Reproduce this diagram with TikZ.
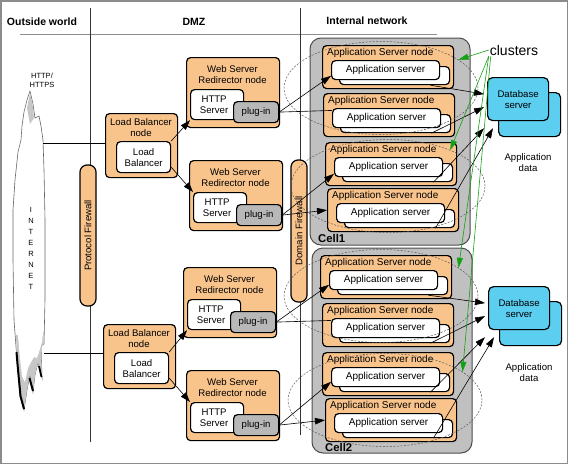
\documentclass[tikz,border=0pt]{standalone}
\usepackage{fontspec}
\setmainfont{Liberation Sans}
\usetikzlibrary{arrows.meta, shapes.geometric, calc}
\definecolor{nodeorange}{RGB}{249,196,140}
\definecolor{cellgray}{RGB}{192,192,192}
\definecolor{pluggray}{RGB}{184,184,184}
\definecolor{dbblue}{RGB}{92,206,240}
\definecolor{clustergreen}{RGB}{20,160,20}

\begin{document}
\begin{tikzpicture}[x=1pt, y=-1pt,
  every node/.style={font=\fontsize{9.6}{11}\selectfont, inner sep=0pt},
  astext/.style={font=\fontsize{10}{11}\selectfont},
  box/.style={draw, line width=1.2pt, rounded corners=4pt, anchor=north west},
  orangebox/.style={box, fill=nodeorange},
  whitebox/.style={box, fill=white},
  plugbox/.style={box, fill=pluggray},
  dbbox/.style={box, fill=dbblue, rounded corners=5pt},
  firewall/.style={draw, line width=1.2pt, fill=nodeorange, rounded corners=7pt, rotate=90, minimum height=16pt},
  cell/.style={draw=black!70, line width=1pt, fill=cellgray, rounded corners=11pt},
  heading/.style={font=\fontsize{10.5}{12}\selectfont\bfseries},
  cluster/.style={ellipse, draw=black!65, dash pattern=on 2pt off 1.5pt, line width=0.5pt, minimum width=194pt, minimum height=93pt},
  arr/.style={-{Triangle[length=10pt,width=6.5pt]}, line width=0.6pt},
  greenarr/.style={-{Triangle[length=10pt,width=6pt]}, draw=clustergreen, line width=0.6pt}]
\useasboundingbox (0,0) rectangle (568,464);
\draw[black!45, line width=1.5pt] (0.75,0.75) rectangle (567.25,463.25);

% zones
\node[heading] (hout) at (42,22) {Outside world};
\node[heading] (hdmz) at (194,22) {DMZ};
\node[heading] (hint) at (367,21) {Internal network};
\draw[black!45] (20,34) -- (437,34);
\draw[black!80, line width=0.8pt] (90,8) -- (90,442);
\draw[black!80, line width=0.8pt] (300,8) -- (300,435);

% internet cloud
\draw[draw=black!60, fill=white, line width=0.6pt] (30,91) -- (33,104) -- (35,118) -- (39,116) -- (41,126)
  -- (43,140) -- (44,170) -- (45,220) -- (45,300) -- (44,344) -- (41,346) -- (42,378) -- (38,362)
  -- (35,375) -- (33,392) -- (30,374) -- (27,390) -- (24,410) -- (20,396) -- (17,360) -- (14,320)
  -- (13,260) -- (13,210) -- (15,180) -- (18,152) -- (21,140) -- (22,126) -- (24,112) -- (27,100) -- cycle;
\fill[black!22] (30,93) -- (32.5,104) -- (34,118) -- (30,124) -- (27,108) -- cycle;
\fill[black!22] (16,335) -- (44.5,332) -- (44,344) -- (41,346) -- (42,378) -- (38,362) -- (35,375)
  -- (33,392) -- (30,374) -- (27,390) -- (24,410) -- (20,396) -- (17,360) -- cycle;
\fill[white] (17,325) -- (44,325) -- (42,342) -- (39,352) -- (37,358) -- (34,357) -- (31,362)
  -- (28,368) -- (25,382) -- (22,376) -- (20,358) -- cycle;
\draw[line width=2pt, line join=round] (16.5,352) -- (17.5,364) -- (20.5,396) -- (24,409);
\draw[line width=2pt] (29.5,378) -- (33,391);
\draw[line width=1.8pt] (39,366) -- (41.5,377);
\node[font=\fontsize{7.5}{9}\selectfont, align=center] (proto) at (42,80.5) {HTTP/\\HTTPS};
\node[font=\fontsize{7.5}{11}\selectfont, align=center] (inet) at (31,248.5) {I\\N\\T\\E\\R\\N\\E\\T};
\coordinate (net1) at (43,143);
\coordinate (net2) at (44,353);

% firewalls
\node[firewall, minimum width=141pt] (pfw) at (88,235.5) {Protocol Firewall};
\node[firewall, minimum width=142pt] (dfw) at (299,231) {Domain Firewall};

% load balancers
\foreach \n/\x/\y in {1/105/113, 2/103/324} {
  \node[orangebox, minimum width=72pt, minimum height=64pt] (lb\n) at (\x,\y) {};
  \node[align=center] (lbt\n) at (\x+36,\y+14.5) {Load Balancer\\node};
  \node[whitebox, minimum width=54pt, minimum height=31pt, align=center] (lbi\n) at (\x+11,\y+28) {Load\\Balancer};
}

% web servers
\foreach \n/\x/\y in {1/186/57, 2/189/160, 3/183/267, 4/186/370} {
  \node[orangebox, minimum width=93pt, minimum height=70pt] (web\n) at (\x,\y) {};
  \node[align=center] (webt\n) at (\x+46.5,\y+17.5) {Web Server\\Redirector node};
  \node[whitebox, minimum width=53pt, minimum height=30pt, align=center] (http\n) at (\x+4,\y+32) {HTTP\hspace*{6pt}\\Server\hspace*{6pt}};
  \node[plugbox, minimum width=45pt, minimum height=21pt] (plug\n) at (\x+47,\y+44) {plug-in};
}

% cells
\draw[cell] (310,38) rectangle (470,245);
\draw[cell] (312,248) rectangle (472,453);
\node[font=\fontsize{11.3}{12}\selectfont\bfseries, anchor=west] (cell1) at (318,238) {Cell1};
\node[font=\fontsize{11.3}{12}\selectfont\bfseries, anchor=west] (cell2) at (325,447) {Cell2};

% application server nodes
\foreach \n/\x/\y in {1/322/45, 2/323/93, 3/325/142, 4/327/188, 5/320/255, 6/322/303, 7/322/352, 8/325/398} {
  \node[orangebox, minimum width=131pt, minimum height=43pt] (asn\n) at (\x,\y) {};
  \node[astext, anchor=west] (ast\n) at (\x+5,\y+8) {Application Server node};
  \node[whitebox, minimum width=110pt, minimum height=18pt] (sh\n) at (\x+17,\y+21) {};
  \node[whitebox, astext, minimum width=108pt, minimum height=19pt] (app\n) at (\x+9,\y+15) {Application server};
}

% clusters
\node[cluster] (cl1) at (381,88) {};
\node[cluster] (cl2) at (388,186) {};
\node[cluster] (cl3) at (381,296) {};
\node[cluster] (cl4) at (385,400) {};

% databases
\foreach \n/\x/\y/\ax/\ay in {1/487/77/528/163, 2/488/286/529/373} {
  \node[dbbox, minimum width=62pt, minimum height=44pt] (dbb\n) at (\x+11,\y+15) {};
  \node[dbbox, minimum width=61pt, minimum height=43pt, align=center] (db\n) at (\x,\y) {Database\\server};
  \node[align=center] (dat\n) at (\ax,\ay) {Application\\data};
  \coordinate (ta\n) at ($(db\n.west)+(-3,-5)$);
  \coordinate (tb\n) at ($(db\n.west)+(-3,8)$);
  \coordinate (tc\n) at ($(db\n.south west)+(-3,7)$);
  \coordinate (td\n) at ($(db\n.south west)+(6,7)$);
}

% connectors
\draw[line width=0.6pt] (net1) -- (net1 -| lb1.west);
\draw[line width=0.6pt] (net2) -- (net2 -| lb2.west);
\draw[arr] (lbi1.north east) -- (http1.south west);
\draw[arr] (lbi1.-20) -- (http2.north west);
\draw[arr] (lbi2.north east) -- (http3.south west);
\draw[arr] (lbi2.-20) -- (http4.north west);

\draw[arr] (plug1.east) -- (app1.186);
\draw[line width=0.6pt] (plug1.east) -- (app2.172);
\draw[arr] (plug2.east) -- (app3.187);
\draw[arr] (plug2.east) -- (asn4.west);
\draw[arr] (plug3.east) -- (app5.185);
\draw[line width=0.6pt] (plug3.east) -- (app6.172);
\draw[arr] (plug4.east) -- (app7.185);
\draw[arr] (plug4.east) -- (asn8.west);

\foreach \a/\t/\d in {1/ta/1, 2/tb/1, 3/tc/1, 4/td/1, 5/ta/2, 6/tb/2, 7/tc/2, 8/td/2}
  \draw[arr] (sh\a.-15) -- (\t\d);

\node[font=\fontsize{14}{16}\selectfont, inner sep=1pt] (clu) at (514,50) {clusters};
\draw[greenarr] (clu.west) -- (cl1.20);
\draw[greenarr] (clu.south west) -- (cl2.30);
\draw[greenarr] (clu.south west) -- (cl3.20);
\draw[greenarr] ([xshift=2pt]clu.south west) -- (cl4.20);
\end{tikzpicture}
\end{document}
